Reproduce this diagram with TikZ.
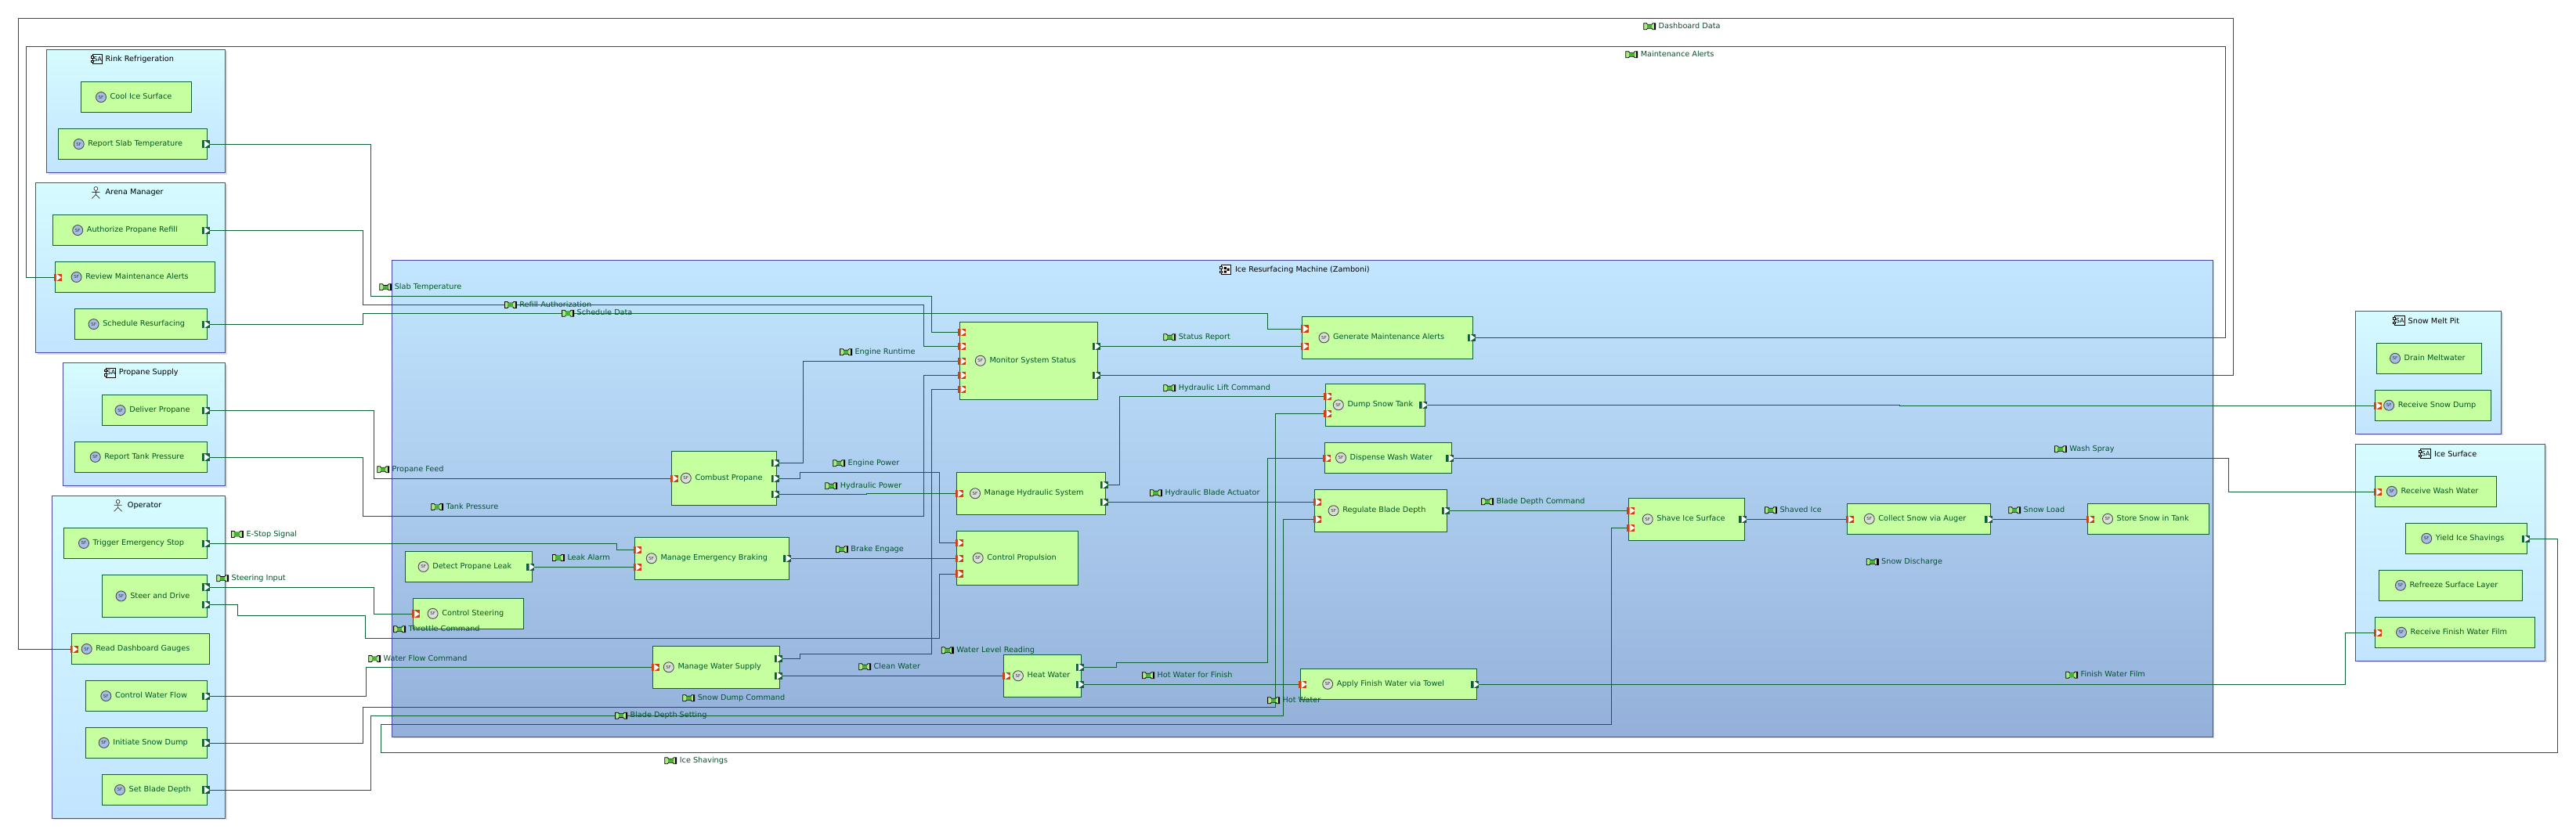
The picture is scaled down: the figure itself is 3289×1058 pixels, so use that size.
\documentclass[tikz,border=0pt]{standalone}
\usepackage{fontspec}
\setmainfont{DejaVu Sans}
\usetikzlibrary{shadows,calc}
\definecolor{lineg}{RGB}{15,95,55}
\definecolor{txtg}{RGB}{0,85,40}
\definecolor{fnfill}{RGB}{197,255,160}
\definecolor{actb}{RGB}{75,75,165}
\definecolor{acttop}{RGB}{214,252,255}
\definecolor{actbot}{RGB}{194,228,255}
\definecolor{mactop}{RGB}{194,230,255}
\definecolor{macbot}{RGB}{148,176,218}
\definecolor{inp}{RGB}{205,65,15}
\definecolor{flowl}{RGB}{175,232,135}
\definecolor{flowm}{RGB}{70,180,50}
\definecolor{sfb}{RGB}{165,190,228}
\definecolor{sfg}{RGB}{215,226,212}
\pgfdeclarelayer{back}
\pgfdeclarelayer{mid}
\pgfsetlayers{back,mid,main}
\tikzset{
  boxfont/.style={font=\fontsize{9.7}{12}\selectfont},
  fnbox/.style={draw=lineg,fill=fnfill,line width=1pt,inner sep=0pt,outer sep=0pt,text=txtg,boxfont},
  cont/.style={draw=actb,line width=1pt,inner sep=0pt,outer sep=0pt,top color=acttop,bottom color=actbot,
     drop shadow={shadow xshift=2pt,shadow yshift=-2pt,fill=gray!45,opacity=.6}},
  macbox/.style={cont,top color=mactop,bottom color=macbot},
  title/.style={text=black,inner sep=0pt,boxfont,anchor=west},
  flowtxt/.style={text=txtg,inner sep=0pt,boxfont,anchor=west},
  conn/.style={draw=lineg,line width=.95pt},
  sfbase/.style={circle,draw=black!70,line width=.9pt,minimum size=13pt,inner sep=0pt,text=black!80,font=\fontsize{5.5}{6}\selectfont},
  sfblue/.style={sfbase,fill=sfb},
  sfgrey/.style={sfbase,fill=sfg},
  sficon/.style={sfblue},
  portbase/.style={rectangle,minimum width=10pt,minimum height=9.5pt,inner sep=0pt,outer sep=0pt,
     path picture={\fill[white] ([xshift=3.2pt]path picture bounding box.north west)--(path picture bounding box.east)--([xshift=3.2pt]path picture bounding box.south west)--cycle;}},
  outport/.style={portbase,fill=lineg},
  inport/.style={portbase,fill=inp},
  flowicon/.pic={
    \draw[fill=flowl,draw=black,line width=.8pt] (-7.5,-4)--(-4,-4)--(-2.6,-2.4)--(2.6,-2.4)--(4,-4)--(7.5,-4)--(7.5,4)--(4,4)--(2.6,2.4)--(-2.6,2.4)--(-4,4)--(-7.5,4)--cycle;
    \fill[flowm] (-3.6,-2.2) rectangle (3.2,2.2);
    \fill[black] (5.6,-4) rectangle (7.8,4);
  },
  actor/.pic={
    \draw[black!80,line width=.7pt,fill=white] (0,-5) circle (2.4);
    \draw[black!80,line width=.7pt] (0,-2.6)--(0,2.5) (-5,-.5)--(5,-.5) (-5,7.5)--(0,2.5)--(5,7.5);
  },
  sysicon/.pic={
    \draw[black,line width=.9pt,fill=acttop] (-6,-6) rectangle (6.5,6);
    \draw[black,line width=.7pt,fill=acttop] (-8,-4) rectangle (-4.8,-1.2) (-8,1.2) rectangle (-4.8,4);
    \node[text=black,inner sep=0pt,font=\fontsize{8}{9}\selectfont] (t) at (.8,0) {SA};
  },
  macicon/.pic={
    \draw[black,line width=.9pt,fill=white] (-6,-6) rectangle (6.5,6);
    \draw[black,line width=.7pt,fill=acttop] (-8,-4) rectangle (-4.8,-1.2) (-8,1.2) rectangle (-4.8,4);
    \fill[black] (-2.5,-3.5) rectangle (.8,-.5) (1.6,-2) rectangle (4.6,1.5) (-2.5,.8) rectangle (.8,3.8);
  },
}
\newcommand{\fnb}[7]{%
  \pgfmathsetmacro\fnW{#4-#2}\pgfmathsetmacro\fnH{#5-#3}\pgfmathsetmacro\fnT{#6-#2}%
  \node[fnbox,minimum width=\fnW pt,minimum height=\fnH pt,anchor=north west] (#1) at (#2,#3) {\makebox[\fnW pt][l]{\hspace{\fnT pt}#7\vphantom{Ag}}};
  \node[sficon] (#1-i) at ({#6-11.7},{(#3+#5)/2}) {SF};
}
\newcommand{\contb}[6][cont]{\node[#1,minimum width=#5pt-#3pt,minimum height=#6pt-#4pt,anchor=north west] (#2) at (#3,#4) {};}
\newcommand{\pout}[3]{\coordinate (tmpc) at (0,#3);\node[outport,xshift=-2pt] (#1) at (#2.east |- tmpc) {};}
\newcommand{\pin}[3]{\coordinate (tmpc) at (0,#3);\node[inport,xshift=3pt] (#1) at (#2.west |- tmpc) {};}
\newcommand{\flab}[4]{\pic at ({#2+7.5},#3) {flowicon};\node[flowtxt] (#1) at ({#2+18.8},#3) {#4\vphantom{Ag}};}
\begin{document}
\begin{tikzpicture}[x=1pt,y=-1pt]
\useasboundingbox (0,0) rectangle (3289,1058);
\begin{pgfonlayer}{back}
\fill[white] (0,0) rectangle (3289,1058);
\contb{rink}{59.6}{63.2}{287.6}{220.8}
\contb{arena}{45.5}{233.3}{287.6}{450.6}
\contb{prop}{80.5}{463.5}{287.6}{620.6}
\contb{oper}{66.4}{633.4}{287.6}{1045}
\contb[macbox]{mach}{500.5}{332.3}{2825.4}{941.4}
\contb{melt}{3007.9}{397.3}{3193.5}{554.3}
\contb{surf}{3007.9}{567.3}{3249.5}{844.3}
\end{pgfonlayer}
% titles
\pic (rinki) at (124,75.7) {sysicon};
\node[title] (rinkt) at (134.4,75.7) {Rink Refrigeration};
\pic at (122.4,246) {actor};
\node[title] (arenat) at (134.4,246) {Arena Manager};
\pic (propi) at (141.2,476) {sysicon};
\node[title] (propt) at (151.7,476) {Propane Supply};
\pic at (150.6,645.8) {actor};
\node[title] (opert) at (162.7,645.8) {Operator};
\pic at (1565,344.7) {macicon};
\node[title] (macht) at (1576.8,344.7) {Ice Resurfacing Machine (Zamboni)};
\pic (melti) at (3063.5,409.7) {sysicon};
\node[title] (meltt) at (3074.5,409.7) {Snow Melt Pit};
\pic (surfi) at (3096.5,579.7) {sysicon};
\node[title] (surft) at (3107.8,579.7) {Ice Surface};
% functions of the actors
\fnb{cis}{103.6}{104.5}{244}{143.7}{140.7}{Cool Ice Surface}
\fnb{rst}{74.3}{164.3}{264.6}{203.8}{112.4}{Report Slab Temperature}
\fnb{aut}{67.5}{274.5}{264.6}{313.7}{110.9}{Authorize Propane Refill}
\fnb{rev}{70.6}{334.3}{274.6}{373.6}{109.3}{Review Maintenance Alerts}
\fnb{sch}{95.7}{394.5}{264.6}{433.7}{131.3}{Schedule Resurfacing}
\fnb{del}{130.2}{504.4}{264.6}{543.8}{165.3}{Deliver Propane}
\fnb{rtp}{95.7}{564.3}{264.6}{603.4}{133.4}{Report Tank Pressure}
\fnb{trg}{81.6}{674.4}{264.6}{713.5}{118.7}{Trigger Emergency Stop}
\fnb{std}{130.2}{734.4}{264.6}{788.6}{166.3}{Steer and Drive}
\fnb{rdg}{91.5}{809.5}{267.8}{848.5}{122.4}{Read Dashboard Gauges}
\fnb{cwf}{109.3}{869.4}{264.6}{908.8}{147}{Control Water Flow}
\fnb{isd}{109.3}{929.3}{264.6}{968.4}{144.4}{Initiate Snow Dump}
\fnb{sbd}{130.2}{989.3}{264.6}{1028.6}{164.7}{Set Blade Depth}
\fnb{drn}{3034.8}{438.3}{3168.6}{477.3}{3069.7}{Drain Meltwater}
\fnb{rsd}{3032.7}{498.3}{3180.8}{537.3}{3061.8}{Receive Snow Dump}
\fnb{rww}{3032.7}{608.3}{3187.7}{647.3}{3065.5}{Receive Wash Water}
\fnb{yld}{3071.8}{668.3}{3226.8}{707.3}{3109.9}{Yield Ice Shavings}
\fnb{rfz}{3037.5}{728.3}{3220.5}{767.3}{3076.6}{Refreeze Surface Layer}
\fnb{rff}{3032.7}{788.3}{3236.8}{827.3}{3077.7}{Receive Finish Water Film}
% functions of the machine
\tikzset{sficon/.style={sfgrey}}
\fnb{dpl}{517.8}{704.4}{679.4}{743.5}{552.3}{Detect Propane Leak}
\fnb{cst}{527.7}{764.3}{668.4}{803.4}{564.3}{Control Steering}
\fnb{mb}{810.7}{686.2}{1007.2}{740.3}{843.5}{Manage Emergency Braking}
\fnb{cp}{857.7}{576.3}{991.5}{645.3}{887.5}{Combust Propane}
\fnb{mon}{1225.3}{411.3}{1401.6}{510.3}{1263.5}{Monitor System Status}
\fnb{mh}{1221.7}{603.3}{1411.5}{657.3}{1256.7}{Manage Hydraulic System}
\fnb{cpr}{1221.7}{678.3}{1376.5}{747.3}{1260.4}{Control Propulsion}
\fnb{mw}{833.6}{825.3}{995.7}{879.3}{865.5}{Manage Water Supply}
\fnb{hw}{1281.8}{836.3}{1380.7}{890.3}{1311.6}{Heat Water}
\fnb{gen}{1662.5}{404.3}{1880.6}{458.3}{1702.2}{Generate Maintenance Alerts}
\fnb{dmp}{1692.3}{490.3}{1819.4}{544.3}{1720.5}{Dump Snow Tank}
\fnb{dsp}{1691.3}{565.3}{1853.4}{604.3}{1723.7}{Dispense Wash Water}
\fnb{reg}{1678.7}{625.3}{1847.6}{679.3}{1714.3}{Regulate Blade Depth}
\fnb{shv}{2079.3}{636.3}{2227.3}{690.3}{2115.4}{Shave Ice Surface}
\fnb{col}{2358.6}{643.3}{2541.4}{682.3}{2398.4}{Collect Snow via Auger}
\fnb{sto}{2665.7}{643.3}{2820.7}{682.3}{2702.7}{Store Snow in Tank}
\fnb{app}{1660.4}{854.3}{1885.3}{893.3}{1706.9}{Apply Finish Water via Towel}
% ports
\pout{rsto}{rst}{184.2}
\pout{auto}{aut}{294.5}
\pin{revi}{rev}{354.3}
\pout{scho}{sch}{414.5}
\pout{delo}{del}{524.3}
\pout{rtpo}{rtp}{584.2}
\pout{trgo}{trg}{694.3}
\pout{stdo}{std}{750.2}
\pout{stdp}{std}{772.4}
\pin{rdgi}{rdg}{829.3}
\pout{cwfo}{cwf}{889.3}
\pout{isdo}{isd}{949.2}
\pout{sbdo}{sbd}{1009.1}
\pout{dplo}{dpl}{724.3}
\pin{csti}{cst}{784.2}
\pin{mbi}{mb}{702.4}
\pin{mbj}{mb}{724.3}
\pout{mbo}{mb}{713.3}
\pin{cpi}{cp}{611.3}
\pout{cpo}{cp}{591.3}
\pout{cpp}{cp}{611.3}
\pout{cpq}{cp}{631.3}
\pin{moni}{mon}{424.3}
\pin{monj}{mon}{442.3}
\pin{monk}{mon}{461.3}
\pin{monl}{mon}{479.3}
\pin{monm}{mon}{497.3}
\pout{mono}{mon}{442.3}
\pout{monp}{mon}{479.3}
\pin{mhi}{mh}{630.3}
\pout{mho}{mh}{619.3}
\pout{mhp}{mh}{641.3}
\pin{cpri}{cpr}{693.3}
\pin{cprj}{cpr}{713.3}
\pin{cprk}{cpr}{733}
\pin{mwi}{mw}{852.7}
\pout{mwo}{mw}{841.3}
\pout{mwp}{mw}{863.3}
\pin{hwi}{hw}{863.3}
\pout{hwo}{hw}{852.3}
\pout{hwp}{hw}{874.3}
\pin{geni}{gen}{420}
\pin{genj}{gen}{442.3}
\pout{geno}{gen}{431.3}
\pin{dmpi}{dmp}{506.3}
\pin{dmpj}{dmp}{528.3}
\pout{dmpo}{dmp}{517.3}
\pin{dspi}{dsp}{585.3}
\pout{dspo}{dsp}{585.3}
\pin{regi}{reg}{641.3}
\pin{regj}{reg}{663.3}
\pout{rego}{reg}{652.3}
\pin{shvi}{shv}{652.3}
\pin{shvj}{shv}{674.3}
\pout{shvo}{shv}{663.3}
\pin{coli}{col}{663.3}
\pout{colo}{col}{663.3}
\pin{stoi}{sto}{663.3}
\pin{appi}{app}{874.3}
\pout{appo}{app}{874.3}
\pin{rsdi}{rsd}{518.3}
\pin{rwwi}{rww}{628.3}
\pout{yldo}{yld}{688.3}
\pin{rffi}{rff}{808.3}
% connectors
\begin{pgfonlayer}{mid}
\draw[conn] (rsto.east) -| (473.3,378.3) -| (1189.8,424.3) -- (moni.west);
\draw[conn] (auto.east) -| (463.4,389.4) -| (1179.3,442.3) -- (monj.west);
\draw[conn] (scho.east) -| (463.4,400.3) -| (1618.6,420) -- (geni.west);
\draw[conn] (cpo.east) -| (1025.5,461.3) -- (monk.west);
\draw[conn] (rtpo.east) -| (463.4,659.3) -| (1179.3,479.3) -- (monl.west);
\draw[conn] (mwo.east) -| (1021.4,835.3) -| (1189.8,497.3) -- (monm.west);
\draw[conn] (mono.east) -- (genj.west);
\draw[conn] (monp.east) -| (2851.3,23.3) -| (23.5,829.3) -- (rdgi.west);
\draw[conn] (geno.east) -| (2841.3,59.3) -| (33.5,354.3) -- (revi.west);
\draw[conn] (delo.east) -| (477.5,611.3) -- (cpi.west);
\draw[conn] (cpp.east) -| (1021.4,603.3) -| (1199.7,693.3) -- (cpri.west);
\draw[conn] (cpq.east) -| (1106,630.3) -- (mhi.west);
\draw[conn] (mho.east) -| (1429.3,506.3) -- (dmpi.west);
\draw[conn] (mhp.east) -- (regi.west);
\draw[conn] (mbo.east) -- (cprj.west);
\draw[conn] (stdp.east) -| (303.3,786.2) -| (466.5,815.2) -| (1199.7,733) -- (cprk.west);
\draw[conn] (stdo.east) -| (477.5,784.2) -- (csti.west);
\draw[conn] (trgo.east) -| (787.7,702.4) -- (mbi.west);
\draw[conn] (dplo.east) -- (mbj.west);
\draw[conn] (cwfo.east) -| (467,852.7) -- (mwi.west);
\draw[conn] (mwp.east) -- (hwi.west);
\draw[conn] (hwo.east) -| (1425.1,846.3) -| (1618.6,585.3) -- (dspi.west);
\draw[conn] (hwp.east) -- (appi.west);
\draw[conn] (isdo.east) -| (463.4,903.3) -| (1628.6,528.3) -- (dmpj.west);
\draw[conn] (sbdo.east) -| (473.3,914.3) -| (1638.5,663.3) -- (regj.west);
\draw[conn] (yldo.east) -| (3265.4,961.3) -| (486.4,925.3) -| (2057.4,674.3) -- (shvj.west);
\draw[conn] (rego.east) -- (shvi.west);
\draw[conn] (shvo.east) -- (coli.west);
\draw[conn] (colo.east) -- (stoi.west);
\draw[conn] (dspo.east) -| (2845.5,628.3) -- (rwwi.west);
\draw[conn] (dmpo.east) -| (2425.6,518.3) -- (rsdi.west);
\draw[conn] (appo.east) -| (2994,808.3) -- (rffi.west);
\end{pgfonlayer}
% flow labels
\flab{l01}{484.8}{366.8}{Slab Temperature}
\flab{l02}{644.4}{389.4}{Refill Authorization}
\flab{l03}{717.6}{400.3}{Schedule Data}
\flab{l04}{481.7}{599.7}{Propane Feed}
\flab{l05}{550.7}{647.5}{Tank Pressure}
\flab{l06}{295.5}{682.5}{E-Stop Signal}
\flab{l07}{276.7}{738.8}{Steering Input}
\flab{l08}{705.5}{712.5}{Leak Alarm}
\flab{l09}{502.6}{803.7}{Throttle Command}
\flab{l10}{470.7}{841.4}{Water Flow Command}
\flab{l11}{785.6}{914.2}{Blade Depth Setting}
\flab{l12}{1072.6}{449.7}{Engine Runtime}
\flab{l13}{1063.7}{591.7}{Engine Power}
\flab{l14}{1053.8}{620.7}{Hydraulic Power}
\flab{l15}{1485.8}{430.7}{Status Report}
\flab{l16}{1485.8}{495.7}{Hydraulic Lift Command}
\flab{l17}{1468.5}{629.7}{Hydraulic Blade Actuator}
\flab{l18}{1067.4}{701.7}{Brake Engage}
\flab{l19}{1202.3}{830.7}{Water Level Reading}
\flab{l20}{1096.7}{851.7}{Clean Water}
\flab{l21}{871.8}{891.7}{Snow Dump Command}
\flab{l22}{1458.6}{862.7}{Hot Water for Finish}
\flab{l23}{1618.6}{894.7}{Hot Water}
\flab{l24}{848.8}{971.7}{Ice Shavings}
\flab{l25}{1891.6}{640.7}{Blade Depth Command}
\flab{l26}{2253.5}{651.7}{Shaved Ice}
\flab{l27}{2383.2}{717.7}{Snow Discharge}
\flab{l28}{2564.7}{651.7}{Snow Load}
\flab{l29}{2623.4}{573.7}{Wash Spray}
\flab{l30}{2637.7}{862.3}{Finish Water Film}
\flab{l31}{2098.7}{33.7}{Dashboard Data}
\flab{l32}{2075.8}{69.7}{Maintenance Alerts}
\end{tikzpicture}
\end{document}
